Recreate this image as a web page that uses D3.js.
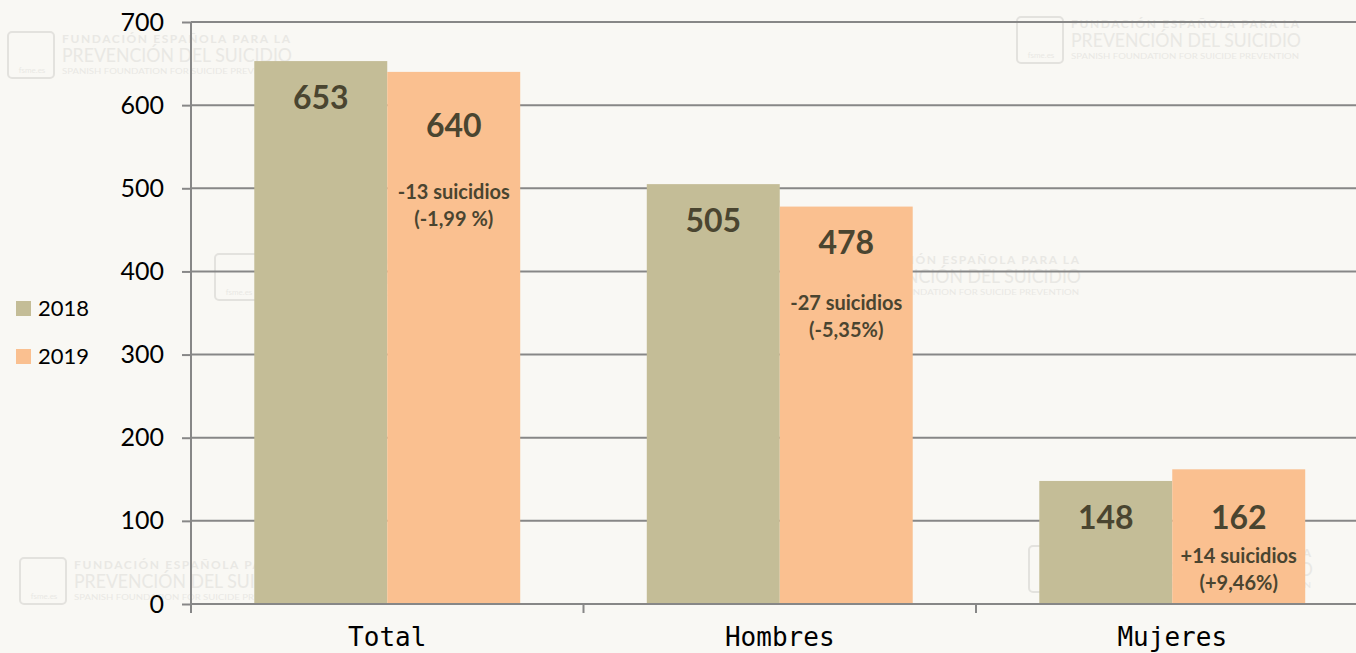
<!DOCTYPE html>
<html>
<head>
<meta charset="utf-8">
<script src="https://cdn.jsdelivr.net/npm/d3@7"></script>
<style>
  html, body { margin: 0; padding: 0; background: #f9f8f4; }
  svg { display: block; }
</style>
</head>
<body>
<div id="chart"></div>
<script>
// datos
const categories = ['Total', 'Hombres', 'Mujeres'];
const years = ['2018', '2019'];
const values2018 = [653, 505, 148];
const values2019 = [640, 478, 162];
const changeText = ['-13 suicidios', '-27 suicidios', '+14 suicidios'];
const changePct = ['(-1,99 %)', '(-5,35%)', '(+9,46%)'];
const yTicks = [0, 100, 200, 300, 400, 500, 600, 700];

const COLORS = { '2018': '#c4bd97', '2019': '#fac090' };
const LABEL_COLOR = '#4a4530';
const GRID_COLOR = '#878787';

const width = 1356, height = 653;
const margin = { left: 191, top: 22, bottom: 49 };

const svg = d3.select('#chart').append('svg')
    .attr('width', width)
    .attr('height', height);

svg.append('rect').attr('width', width).attr('height', height).attr('fill', '#f9f8f4');

// marca de agua (logo de fondo)
function watermark(x, y) {
    const g = svg.append('g').attr('transform', `translate(${x},${y})`)
        .attr('fill', '#e9e8e4');
    g.append('rect')
        .attr('x', 0).attr('y', 0).attr('width', 46).attr('height', 46)
        .attr('rx', 4)
        .attr('fill', 'none').attr('stroke', '#e3e2de').attr('stroke-width', 2);
    g.append('text').attr('x', 24).attr('y', 41).attr('text-anchor', 'middle')
        .attr('font-family', 'Lato, sans-serif').attr('font-size', 8).text('fsme.es');
    g.append('text').attr('x', 54).attr('y', 11)
        .attr('font-family', 'Lato, sans-serif').attr('font-weight', 'bold').attr('font-size', 12)
        .attr('textLength', 228).attr('lengthAdjust', 'spacing')
        .text('FUNDACIÓN ESPAÑOLA PARA LA');
    g.append('text').attr('x', 54).attr('y', 30)
        .attr('font-family', 'Lato, sans-serif').attr('font-size', 19)
        .attr('textLength', 230).attr('lengthAdjust', 'spacingAndGlyphs')
        .text('PREVENCIÓN DEL SUICIDIO');
    g.append('text').attr('x', 54).attr('y', 42)
        .attr('font-family', 'Lato, sans-serif').attr('font-size', 8)
        .attr('textLength', 228).attr('lengthAdjust', 'spacingAndGlyphs')
        .text('SPANISH FOUNDATION FOR SUICIDE PREVENTION');
}
[[8, 32], [1017, 17], [215, 254], [797, 253], [20, 558], [1029, 546]]
    .forEach(([x, y]) => watermark(x, y));

// escalas
const y = d3.scaleLinear().domain([0, 700]).range([height - margin.bottom, margin.top]);
const x0 = d3.scaleBand().domain(categories).range([margin.left, margin.left + 3 * 392.5])
    .paddingInner(0).paddingOuter(0);
const x1 = d3.scaleBand().domain(years).range([0, x0.bandwidth()])
    .paddingInner(0).paddingOuter(0.476);

// rejilla
svg.append('g').selectAll('line')
    .data(yTicks.filter(d => d > 0))
    .enter().append('line')
    .attr('x1', margin.left).attr('x2', width)
    .attr('y1', d => y(d)).attr('y2', d => y(d))
    .attr('stroke', GRID_COLOR).attr('stroke-width', 2);

// barras
const rows = categories.map((c, i) => ({ cat: c, i, vals: [values2018[i], values2019[i]] }));
const groups = svg.append('g').selectAll('g')
    .data(rows).enter().append('g')
    .attr('transform', d => `translate(${x0(d.cat)},0)`);

groups.selectAll('rect')
    .data(d => years.map((yr, j) => ({ yr, v: d.vals[j], i: d.i })))
    .enter().append('rect')
    .attr('x', d => x1(d.yr))
    .attr('y', d => y(d.v))
    .attr('width', x1.bandwidth())
    .attr('height', d => y(0) - y(d.v))
    .attr('fill', d => COLORS[d.yr]);

// etiquetas de valor (Excel las colocó a mano, de ahí los desplazamientos)
const valueDy = { '2018': [48, 48, 48], '2019': [65, 47, 60] };
groups.selectAll('text.value')
    .data(d => years.map((yr, j) => ({ yr, v: d.vals[j], i: d.i })))
    .enter().append('text')
    .attr('class', 'value')
    .attr('x', d => x1(d.yr) + x1.bandwidth() / 2)
    .attr('y', d => d.yr === '2019' && d.i === 2 ? y(values2018[2]) + 48 : y(d.v) + valueDy[d.yr][d.i])
    .attr('text-anchor', 'middle')
    .attr('font-family', 'Lato, sans-serif')
    .attr('font-weight', 'bold')
    .attr('font-size', 32)
    .attr('fill', LABEL_COLOR)
    .text(d => d.v);

// anotaciones de variación
const changeDy = [127, 103, 94];
groups.each(function (d) {
    const g = d3.select(this);
    const cx = x1('2019') + x1.bandwidth() / 2;
    const base = y(d.vals[1]) + changeDy[d.i];
    const t = g.append('text')
        .attr('text-anchor', 'middle')
        .attr('font-family', 'Lato, sans-serif')
        .attr('font-weight', 'bold')
        .attr('font-size', 20)
        .attr('fill', LABEL_COLOR);
    t.append('tspan').attr('x', cx).attr('y', base).text(changeText[d.i]);
    t.append('tspan').attr('x', cx).attr('y', base + 27).text(changePct[d.i]);
});

// eje Y
const yAxis = svg.append('g')
    .attr('transform', `translate(${margin.left},0)`)
    .call(d3.axisLeft(y).tickValues(yTicks).tickSize(9).tickPadding(18));
yAxis.select('.domain').attr('stroke', GRID_COLOR).attr('stroke-width', 2)
    .attr('d', `M0,${margin.top}V${y(0) + 9}`);
yAxis.selectAll('.tick line').attr('stroke', GRID_COLOR).attr('stroke-width', 2);
yAxis.selectAll('.tick text')
    .attr('font-family', 'Lato, sans-serif')
    .attr('font-size', 25)
    .attr('fill', '#000');

// eje X
svg.append('line')
    .attr('x1', margin.left).attr('x2', width)
    .attr('y1', y(0)).attr('y2', y(0))
    .attr('stroke', GRID_COLOR).attr('stroke-width', 2);
svg.append('g').selectAll('line')
    .data(categories.slice(1))
    .enter().append('line')
    .attr('x1', d => x0(d)).attr('x2', d => x0(d))
    .attr('y1', y(0)).attr('y2', y(0) + 9)
    .attr('stroke', GRID_COLOR).attr('stroke-width', 2);

const xAxis = svg.append('g')
    .attr('transform', `translate(0,${y(0)})`)
    .call(d3.axisBottom(x0).tickSize(0).tickPadding(24));
xAxis.select('.domain').remove();
xAxis.selectAll('.tick text')
    .attr('font-family', '"DejaVu Sans Mono", monospace')
    .attr('font-size', 26)
    .attr('fill', '#000');

// leyenda
const legend = svg.append('g').selectAll('g')
    .data(years).enter().append('g')
    .attr('transform', (d, i) => `translate(16,${301 + i * 48})`);
legend.append('rect')
    .attr('width', 15).attr('height', 15)
    .attr('fill', d => COLORS[d]);
legend.append('text')
    .attr('x', 22).attr('y', 15)
    .attr('font-family', 'Lato, sans-serif')
    .attr('font-size', 22)
    .attr('fill', '#000')
    .text(d => d);
</script>
</body>
</html>
